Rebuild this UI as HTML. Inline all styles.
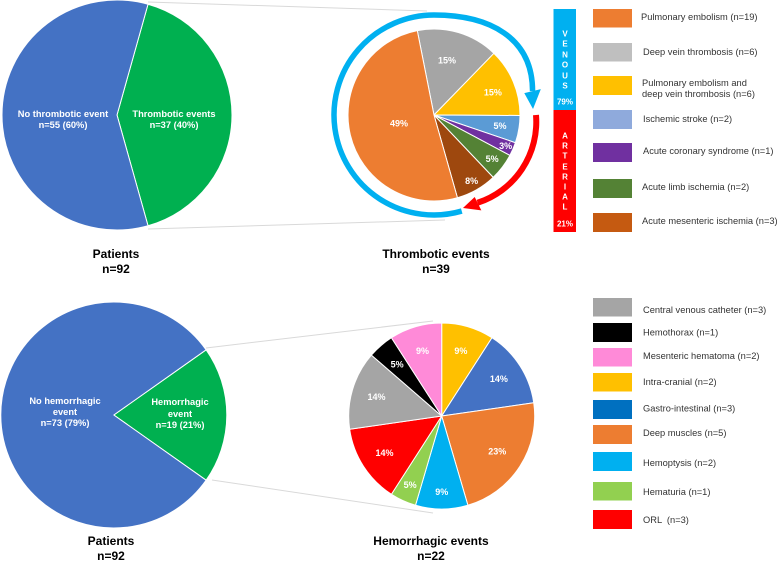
<!DOCTYPE html>
<html>
<head>
<meta charset="utf-8">
<title>Thrombotic and hemorrhagic events</title>
<style>
html,body{margin:0;padding:0;background:#fff;width:778px;height:561px;overflow:hidden}
svg{display:block;font-family:"Liberation Sans",Arial,sans-serif}
.pct{font-size:9px;font-weight:bold;fill:#fff;text-anchor:middle;dominant-baseline:central}
.in{font-size:9.3px;font-weight:bold;fill:#fff;text-anchor:middle;dominant-baseline:central}
.ttl{font-size:12px;font-weight:bold;fill:#000;text-anchor:middle;dominant-baseline:central}
.lg{font-size:9.3px;fill:#333;dominant-baseline:central}
.bar{font-size:8px;font-weight:bold;fill:#fff;text-anchor:middle;dominant-baseline:central}
</style>
</head>
<body>
<svg id="chart" width="778" height="561" viewBox="0 0 778 561" xmlns="http://www.w3.org/2000/svg">
  <g id="connectors" stroke="#d9d9d9" stroke-width="1" fill="none">
    <line x1="148" y1="2" x2="427" y2="11"/>
    <line x1="148" y1="229" x2="445" y2="220"/>
    <line x1="206" y1="348" x2="433" y2="321"/>
    <line x1="212" y1="480" x2="433" y2="513"/>
  </g>
  <g id="pies"></g>
  <g id="rings"></g>

  <g>
    <text class="in" x="63" y="114">No thrombotic event</text>
    <text class="in" x="63" y="125">n=55 (60%)</text>
    <text class="in" x="174" y="114">Thrombotic events</text>
    <text class="in" x="174" y="125">n=37 (40%)</text>
  </g>
  <g>
    <text class="in" x="65" y="401">No hemorrhagic</text>
    <text class="in" x="65" y="412">event</text>
    <text class="in" x="65" y="423">n=73 (79%)</text>
    <text class="in" x="180" y="402">Hemorrhagic</text>
    <text class="in" x="180" y="414">event</text>
    <text class="in" x="180" y="425">n=19 (21%)</text>
  </g>

  <g>
    <text class="ttl" x="116" y="254">Patients</text>
    <text class="ttl" x="116" y="269">n=92</text>
    <text class="ttl" x="436" y="254">Thrombotic events</text>
    <text class="ttl" x="436" y="269">n=39</text>
    <text class="ttl" x="111" y="541">Patients</text>
    <text class="ttl" x="111" y="556">n=92</text>
    <text class="ttl" x="431" y="541">Hemorrhagic events</text>
    <text class="ttl" x="431" y="556">n=22</text>
  </g>

  <g>
    <rect x="553.5" y="9" width="22.5" height="101" fill="#00b0f0"/>
    <rect x="553.5" y="110" width="22.5" height="122" fill="#ff0000"/>
    <text class="bar" x="565" y="34">V</text>
    <text class="bar" x="565" y="44">E</text>
    <text class="bar" x="565" y="55">N</text>
    <text class="bar" x="565" y="65">O</text>
    <text class="bar" x="565" y="76">U</text>
    <text class="bar" x="565" y="86">S</text>
    <text class="bar" x="565" y="102">79%</text>
    <text class="bar" x="565" y="136">A</text>
    <text class="bar" x="565" y="146">R</text>
    <text class="bar" x="565" y="156">T</text>
    <text class="bar" x="565" y="167">E</text>
    <text class="bar" x="565" y="177">R</text>
    <text class="bar" x="565" y="187">I</text>
    <text class="bar" x="565" y="197">A</text>
    <text class="bar" x="565" y="207">L</text>
    <text class="bar" x="565" y="224">21%</text>
  </g>

  <g>
    <g><rect x="593" y="9" width="39" height="18.5" fill="#ed7d31"/><text class="lg" x="641" y="17">Pulmonary embolism (n=19)</text></g>
    <g><rect x="593" y="43" width="39" height="18.5" fill="#bfbfbf"/><text class="lg" x="643" y="52">Deep vein thrombosis (n=6)</text></g>
    <g><rect x="593" y="76" width="39" height="19" fill="#ffc000"/><text class="lg" x="642" y="83">Pulmonary embolism and</text><text class="lg" x="642" y="94">deep vein thrombosis (n=6)</text></g>
    <g><rect x="593" y="110" width="39" height="19" fill="#8faadc"/><text class="lg" x="643" y="119">Ischemic stroke (n=2)</text></g>
    <g><rect x="593" y="143" width="39" height="19" fill="#7030a0"/><text class="lg" x="643" y="151">Acute coronary syndrome (n=1)</text></g>
    <g><rect x="593" y="179" width="39" height="19" fill="#548235"/><text class="lg" x="642" y="187">Acute limb ischemia (n=2)</text></g>
    <g><rect x="593" y="213" width="39" height="19" fill="#c55a11"/><text class="lg" x="642" y="221">Acute mesenteric ischemia (n=3)</text></g>
  </g>

  <g>
    <g><rect x="593" y="298" width="39" height="18.5" fill="#a5a5a5"/><text class="lg" x="643" y="310">Central venous catheter (n=3)</text></g>
    <g><rect x="593" y="323" width="39" height="19" fill="#000"/><text class="lg" x="643" y="332.5">Hemothorax (n=1)</text></g>
    <g><rect x="593" y="348" width="39" height="18.5" fill="#ff8ad8"/><text class="lg" x="643" y="356">Mesenteric hematoma (n=2)</text></g>
    <g><rect x="593" y="373" width="39" height="18.5" fill="#ffc000"/><text class="lg" x="643" y="382">Intra-cranial (n=2)</text></g>
    <g><rect x="593" y="400" width="39" height="19" fill="#0070c0"/><text class="lg" x="643" y="408.5">Gastro-intestinal (n=3)</text></g>
    <g><rect x="593" y="425" width="39" height="19" fill="#ed7d31"/><text class="lg" x="643" y="433">Deep muscles (n=5)</text></g>
    <g><rect x="593" y="452" width="39" height="19" fill="#00b0f0"/><text class="lg" x="643" y="463">Hemoptysis (n=2)</text></g>
    <g><rect x="593" y="482" width="39" height="18.5" fill="#92d050"/><text class="lg" x="643" y="492">Hematuria (n=1)</text></g>
    <g><rect x="593" y="510" width="39" height="19" fill="#ff0000"/><text class="lg" x="643" y="520" xml:space="preserve">ORL  (n=3)</text></g>
  </g>
</svg>
<script>
// Chart data
const thromboPatientCategories = ['thrombotic', 'no-thrombotic'];
const thromboPatientValues = [38, 54];
const thromboEventCategories = ['deep-vein-thrombosis', 'pe-and-dvt', 'ischemic-stroke', 'acute-coronary-syndrome', 'acute-limb-ischemia', 'acute-mesenteric-ischemia', 'pulmonary-embolism'];
const thromboEventValues = [6, 5, 2, 1, 2, 3, 20];
const thromboEventLabels = ['15%', '15%', '5%', '3%', '5%', '8%', '49%'];
const ringCategories = ['arterial', 'venous'];
const ringShares = [21, 79];
const hemoPatientCategories = ['hemorrhagic', 'no-hemorrhagic'];
const hemoPatientValues = [18, 74];
const hemoEventCategories = ['intra-cranial', 'gastro-intestinal', 'deep-muscles', 'hemoptysis', 'hematuria', 'orl', 'central-venous-catheter', 'hemothorax', 'mesenteric-hematoma'];
const hemoEventValues = [2, 3, 5, 2, 1, 3, 3, 1, 2];
const hemoEventLabels = ['9%', '14%', '23%', '9%', '5%', '14%', '14%', '5%', '9%'];

const NS = 'http://www.w3.org/2000/svg';
function polar(cx, cy, r, deg) {
  const a = deg * Math.PI / 180;
  return [cx + r * Math.sin(a), cy - r * Math.cos(a)];
}
function drawPie(o) {
  const host = document.getElementById('pies');
  const total = o.values.reduce(function (s, v) { return s + v; }, 0);
  let start = o.centerFirst ? 90 - (o.values[0] / total * 360) / 2 : o.start;
  const texts = [];
  o.values.forEach(function (v, i) {
    const sweep = v / total * 360;
    const p0 = polar(o.cx, o.cy, o.r, start);
    const p1 = polar(o.cx, o.cy, o.r, start + sweep);
    const slice = document.createElementNS(NS, 'path');
    slice.setAttribute('d', 'M' + o.cx + ' ' + o.cy + 'L' + p0[0] + ' ' + p0[1] + 'A' + o.r + ' ' + o.r + ' 0 ' + (sweep > 180 ? 1 : 0) + ' 1 ' + p1[0] + ' ' + p1[1] + 'Z');
    slice.setAttribute('fill', o.colors[i]);
    slice.setAttribute('stroke', '#fff');
    slice.setAttribute('stroke-width', '1');
    slice.setAttribute('stroke-linejoin', 'round');
    
    
    host.appendChild(slice);
    if (o.labels) {
      const c = polar(o.cx, o.cy, o.labelR[i], start + sweep / 2 + o.labelTurn[i]);
      const t = document.createElementNS(NS, 'text');
      t.setAttribute('class', 'pct');
      t.setAttribute('x', c[0]);
      t.setAttribute('y', c[1]);
      
      
      t.textContent = o.labels[i];
      texts.push(t);
    }
    start += sweep;
  });
  texts.forEach(function (t) { host.appendChild(t); });
}
function drawHead(o) {
  const host = document.getElementById('rings');
  const tip = polar(o.cx, o.cy, o.tipR, o.tip);
  const b1 = polar(o.cx, o.cy, o.baseR - o.head / 2, o.base);
  const b2 = polar(o.cx, o.cy, o.baseR + o.head / 2, o.base);
  const head = document.createElementNS(NS, 'polygon');
  head.setAttribute('points', tip.join(',') + ' ' + b1.join(',') + ' ' + b2.join(','));
  head.setAttribute('fill', o.color);
  
  
  host.appendChild(head);
}
function drawStroke(d, color, width, name) {
  const arc = document.createElementNS(NS, 'path');
  arc.setAttribute('d', d);
  arc.setAttribute('fill', 'none');
  arc.setAttribute('stroke', color);
  arc.setAttribute('stroke-width', width);
  
  
  document.getElementById('rings').appendChild(arc);
}

drawPie({ cx: 117, cy: 115, r: 115, values: thromboPatientValues, names: thromboPatientCategories, colors: ['#00b050', '#4472c4'], centerFirst: true });
drawPie({ cx: 434, cy: 115, r: 86, start: -11.2, values: thromboEventValues, names: thromboEventCategories,
  colors: ['#a5a5a5', '#ffc000', '#5b9bd5', '#7030a0', '#548235', '#9e480e', '#ed7d31'],
  labels: thromboEventLabels, labelR: [56, 63, 67, 78, 73, 76, 36], labelTurn: [-3, 2, 0, 0, 0, 0, 0] });
drawPie({ cx: 113.8, cy: 415, r: 113, values: hemoPatientValues, names: hemoPatientCategories, colors: ['#00b050', '#4472c4'], centerFirst: true });
drawPie({ cx: 441.7, cy: 416, r: 93, start: 0, values: hemoEventValues, names: hemoEventCategories,
  colors: ['#ffc000', '#4472c4', '#ed7d31', '#00b0f0', '#92d050', '#ff0000', '#a5a5a5', '#000000', '#ff8ad8'],
  labels: hemoEventLabels, labelR: [68, 68, 66, 76, 76, 68, 68, 68, 68], labelTurn: [0, 0, 0, 0, 0, 0, 0, 0, 0] });

// Arrows: the ring split follows ringShares, clockwise from 3 o'clock
const ringTotal = ringShares[0] + ringShares[1];
const arterialEnd = 90 + ringShares[0] / ringTotal * 360;
const ringCx = 434, ringCy = 115;

const redStart = polar(ringCx, ringCy, 102, 90);
const redEnd = polar(ringCx, ringCy, 98, arterialEnd - 12);
drawStroke('M' + redStart.join(' ') + 'A85 85 0 0 1 ' + redEnd.join(' '), '#ff0000', 6, 'arterial');
drawHead({ cx: ringCx, cy: ringCy, tipR: 97.4, tip: arterialEnd - 2.9, baseR: 99, base: arterialEnd - 12, head: 15, color: '#ff0000', name: 'arterial' });

const blueStart = polar(ringCx, ringCy, 100, arterialEnd - 1.7);
const blueTop = polar(ringCx, ringCy, 100, 0);
const blueEnd = polar(ringCx, ringCy, 101.4, 76.4);
drawStroke('M' + blueStart.join(' ') + 'A100 100 0 1 1 ' + blueTop.join(' ') +
  'C' + (blueTop[0] + 55) + ' ' + blueTop[1] + ' ' + blueEnd[0] + ' ' + (blueEnd[1] - 54) + ' ' + blueEnd.join(' '),
  '#00b0f0', 5.5, 'venous');
drawHead({ cx: ringCx, cy: ringCy, tipR: 99.2, tip: 86.5, baseR: 101.4, base: 76.4, head: 17, color: '#00b0f0', name: 'venous' });
</script>
</body>
</html>
